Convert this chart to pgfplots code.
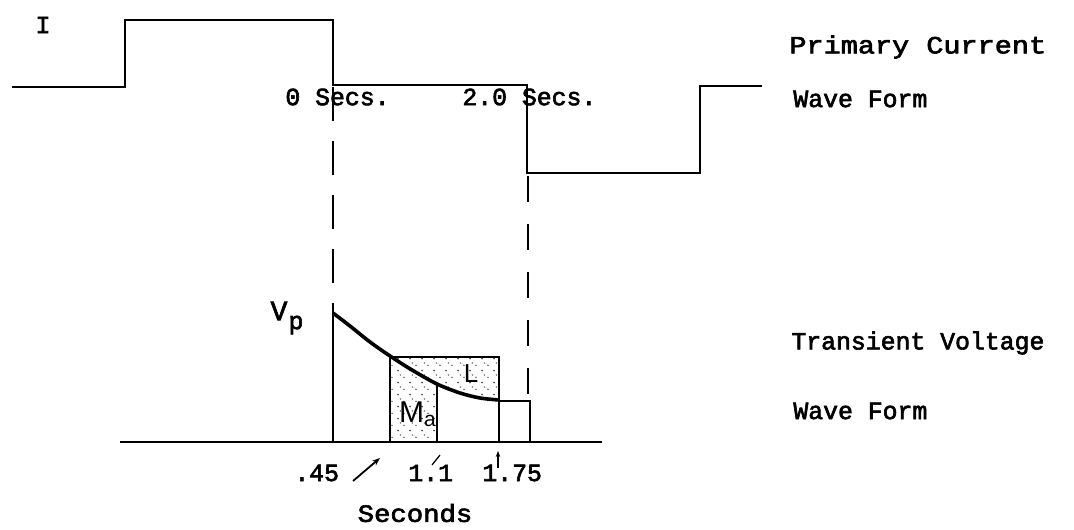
\documentclass[border=0pt]{standalone}
\usepackage{pgfplots}
\pgfplotsset{compat=1.18}
\usepackage{fontspec}
\setmainfont{Liberation Mono}[FakeBold=2.5]
\newfontfamily\hand{Liberation Sans}
\usetikzlibrary{patterns.meta,arrows.meta}
\tikzdeclarepattern{
  name=sparsedots, type=uncolored,
  bottom left={(-.5pt,-.5pt)}, top right={(6.5pt,6.5pt)},
  tile size={(6pt,6pt)},
  code={\fill (1pt,1.2pt) circle (0.45pt); \fill (4pt,3.8pt) circle (0.4pt); \fill (2.2pt,5pt) circle (0.35pt);}
}
\newcommand\tw{\fontsize{12.4}{13}\selectfont}
\begin{document}
\begin{tikzpicture}
\begin{axis}[
  scale only axis, width=537pt, height=264.5pt,
  xmin=0, xmax=1074, ymin=0, ymax=529, y dir=reverse,
  hide axis, clip=false,
]
\path (axis cs:0,0) rectangle (axis cs:1074,529);
% stippled regions
\addplot[draw=none, pattern={sparsedots}, pattern color=black!75] coordinates {(390,356) (412,370) (437,384) (460,393) (480,398) (499,400) (499,357) (390,357)} -- cycle;
\addplot[draw=none, pattern={sparsedots}, pattern color=black!75] coordinates {(390,356) (412,370) (437,384) (437,442) (390,442)} -- cycle;
% primary current
\addplot[black, line width=1.1pt, mark=none] coordinates {(12,87) (125,87) (125,20) (333,20) (333,85) (527,85) (527,173) (700,173) (700,86) (762,86)};
% dashed guides
\addplot[black, line width=1.1pt, dash pattern=on 17pt off 10pt, mark=none] coordinates {(333,87) (333,313)};
\addplot[black, line width=1.1pt, dash pattern=on 13pt off 11pt, mark=none] coordinates {(528,176) (528,401)};
% transient voltage
\addplot[black, line width=1.8pt, mark=none, smooth] coordinates {(333,313) (350,326) (370,342) (390,356) (412,370) (437,384) (460,393) (480,398) (499,400)};
\addplot[black, line width=0.9pt, mark=none] coordinates {(333,313) (333,442)};
\addplot[black, line width=0.6pt, mark=none] coordinates {(499,401) (530,401) (530,442)};
\addplot[black, line width=0.9pt, mark=none] coordinates {(390,442) (390,357) (499,357) (499,442)};
\addplot[black, line width=0.9pt, mark=none] coordinates {(437,384) (437,442)};
\addplot[black, line width=1.1pt, mark=none] coordinates {(120,442) (602,442)};
% arrows
\addplot[black, line width=0.9pt, mark=none, -{Stealth[length=4pt]}] coordinates {(353,481) (380,458)};
\addplot[black, line width=0.6pt, mark=none] coordinates {(432,465) (440,455)};
\addplot[black, line width=0.6pt, mark=none, -{Stealth[length=3pt]}] coordinates {(498,468) (498,451)};
% texts
\node[font=\tw] at (axis cs:43,25) {I};
\node[font=\tw, anchor=west, inner sep=0pt] at (axis cs:789,47) {\scalebox{1.15}[1]{Primary Current}};
\node[font=\tw, anchor=west, inner sep=0pt] at (axis cs:793,99) {Wave Form};
\node[font=\tw, anchor=west, inner sep=0pt] at (axis cs:285,97) {0 Secs.};
\node[font=\tw, anchor=west, inner sep=0pt] at (axis cs:462,97) {2.0 Secs.};
\node[font=\tw, anchor=west, inner sep=0pt] at (axis cs:791,343) {Transient Voltage};
\node[font=\tw, anchor=west, inner sep=0pt] at (axis cs:793,411) {Wave Form};
\node[font=\fontsize{14}{15}\selectfont] at (axis cs:279,311) {V};
\node[font=\tw] at (axis cs:296,325) {p};
\node[font=\tw, anchor=west, inner sep=0pt] at (axis cs:294,473) {.45};
\node[font=\tw, anchor=west, inner sep=0pt] at (axis cs:408,473) {1.1};
\node[font=\tw, anchor=west, inner sep=0pt] at (axis cs:482,473) {1.75};
\node[font=\tw] at (axis cs:415,513) {\scalebox{1.1}[1]{Seconds}};
\node[font=\hand\fontsize{13}{14}\selectfont] at (axis cs:471,374) {L};
\node[font=\hand\fontsize{15}{16}\selectfont, inner sep=0pt] at (axis cs:418,414) {M\textsubscript{a}};
\end{axis}
\end{tikzpicture}
\end{document}
